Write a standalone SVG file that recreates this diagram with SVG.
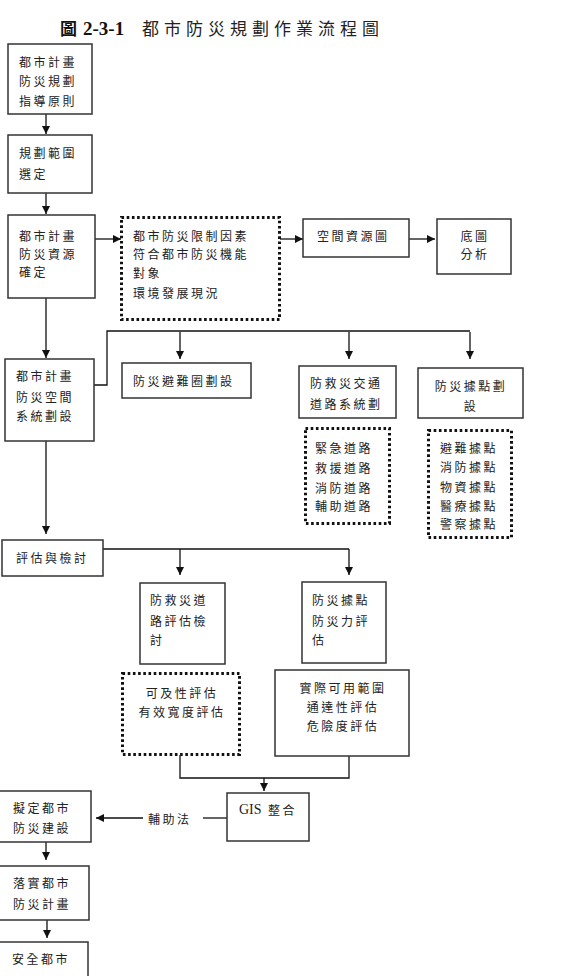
<svg xmlns="http://www.w3.org/2000/svg" width="582" height="976" viewBox="0 0 582 976">
<style>
.box{fill:#fff;stroke:#333;stroke-width:1.5}
.dot{fill:none;stroke:#111;stroke-width:3;stroke-dasharray:2.6 2.6}
.t{font-family:"Noto Sans CJK TC","Noto Sans CJK SC",sans-serif;font-size:12px;letter-spacing:2.5px;fill:#222;dominant-baseline:central}
.c{text-anchor:middle}
.ln{fill:none;stroke:#111;stroke-width:1.3}
.ar{marker-end:url(#ah)}
</style>
<defs>
<marker id="ah" viewBox="0 0 10 10" refX="10" refY="5" markerWidth="9" markerHeight="8" markerUnits="userSpaceOnUse" orient="auto"><path d="M0,0 L10,5 L0,10 z" fill="#111"/></marker>
</defs>
<rect width="582" height="976" fill="#fff"/>
<g id="title">
<text x="60" y="35" font-family="Noto Sans CJK TC,sans-serif" font-size="17" font-weight="bold" fill="#111">圖</text>
<text x="83" y="35" font-family="Liberation Serif,serif" font-size="19" font-weight="bold" fill="#111">2-3-1</text>
<text x="142" y="35" font-family="Noto Sans CJK TC,sans-serif" font-size="17" letter-spacing="5" fill="#222">都市防災規劃作業流程圖</text>
</g>
<g id="connectors">
<path class="ln ar" d="M46,114 V134"/>
<path class="ln ar" d="M46,193 V214"/>
<path class="ln ar" d="M95,239 H121"/>
<path class="ln ar" d="M280,239 H303"/>
<path class="ln ar" d="M409,239 H435"/>
<path class="ln ar" d="M46,298 V358"/>
<path class="ln" d="M94,385 H107 V331 H470"/>
<path class="ln ar" d="M180,332 V359"/>
<path class="ln ar" d="M349,332 V359"/>
<path class="ln ar" d="M470,332 V359"/>
<path class="ln ar" d="M46,441 V534"/>
<path class="ln" d="M103,549 H349"/>
<path class="ln ar" d="M180,549 V575"/>
<path class="ln ar" d="M349,549 V575"/>
<path class="ln" d="M180,755 V778 H349 V756"/>
<path class="ln ar" d="M264,778 V791"/>
<path class="ln" d="M227,818 H203"/>
<path class="ln ar" d="M143,818 H96"/>
<text class="t" x="148" y="818">輔助法</text>
<path class="ln ar" d="M46,842 V860"/>
<path class="ln ar" d="M47,920 V938"/>
</g>
<g id="n1"><rect class="box" x="8" y="44" width="84" height="70"/>
<text class="t" x="19" y="61">都市計畫</text><text class="t" x="19" y="80">防災規劃</text><text class="t" x="19" y="100">指導原則</text></g>
<g id="n2"><rect class="box" x="8" y="135" width="84" height="58"/>
<text class="t" x="19" y="152">規劃範圍</text><text class="t" x="19" y="173">選定</text></g>
<g id="n3"><rect class="box" x="8" y="215" width="87" height="83"/>
<text class="t" x="19" y="235">都市計畫</text><text class="t" x="19" y="253">防災資源</text><text class="t" x="19" y="271">確定</text></g>
<g id="n4"><rect class="dot" x="121.5" y="217.5" width="158" height="102"/>
<text class="t" x="133" y="235">都市防災限制因素</text><text class="t" x="133" y="253">符合都市防災機能</text><text class="t" x="133" y="272">對象</text><text class="t" x="133" y="292">環境發展現況</text></g>
<g id="n5"><rect class="box" x="303" y="219" width="106" height="38"/>
<text class="t" x="317" y="235">空間資源圖</text></g>
<g id="n6"><rect class="box" x="437" y="219" width="74" height="55"/>
<text class="t c" x="475" y="235">底圖</text><text class="t c" x="475" y="253">分析</text></g>
<g id="n7"><rect class="box" x="5" y="359" width="89" height="82"/>
<text class="t" x="16" y="375">都市計畫</text><text class="t" x="16" y="396">防災空間</text><text class="t" x="16" y="415">系統劃設</text></g>
<g id="n8"><rect class="box" x="122" y="363" width="129" height="35"/>
<text class="t" x="133" y="380">防災避難圈劃設</text></g>
<g id="n9"><rect class="box" x="299" y="366" width="97" height="52"/>
<text class="t" x="310" y="382">防救災交通</text><text class="t" x="310" y="403">道路系統劃</text></g>
<g id="n10"><rect class="box" x="418" y="368" width="105" height="50"/>
<text class="t c" x="471" y="385">防災據點劃</text><text class="t c" x="471" y="405">設</text></g>
<g id="n11"><rect class="dot" x="305.5" y="428.5" width="84" height="95"/>
<text class="t" x="315" y="447">緊急道路</text><text class="t" x="315" y="467">救援道路</text><text class="t" x="315" y="487">消防道路</text><text class="t" x="315" y="505">輔助道路</text></g>
<g id="n12"><rect class="dot" x="428.5" y="430.5" width="83" height="107"/>
<text class="t" x="440" y="447">避難據點</text><text class="t" x="440" y="466">消防據點</text><text class="t" x="440" y="486">物資據點</text><text class="t" x="440" y="505">醫療據點</text><text class="t" x="440" y="523">警察據點</text></g>
<g id="n13"><rect class="box" x="2" y="540" width="101" height="36"/>
<text class="t" x="16" y="557">評估與檢討</text></g>
<g id="n14"><rect class="box" x="140" y="583" width="85" height="81"/>
<text class="t" x="150" y="599">防救災道</text><text class="t" x="150" y="620">路評估檢</text><text class="t" x="150" y="639">討</text></g>
<g id="n15"><rect class="box" x="302" y="582" width="84" height="81"/>
<text class="t" x="312" y="599">防災據點</text><text class="t" x="312" y="620">防災力評</text><text class="t" x="312" y="639">估</text></g>
<g id="n16"><rect class="dot" x="122.5" y="673.5" width="117" height="81"/>
<text class="t c" x="182" y="692">可及性評估</text><text class="t c" x="182" y="711">有效寬度評估</text></g>
<g id="n17"><rect class="box" x="275" y="670" width="134" height="86"/>
<text class="t c" x="343" y="687">實際可用範圍</text><text class="t c" x="343" y="706">通達性評估</text><text class="t c" x="343" y="725">危險度評估</text></g>
<g id="n18"><rect class="box" x="227" y="793" width="82" height="48"/>
<text x="239" y="814" font-family="Liberation Serif,serif" font-size="14" fill="#222">GIS</text><text class="t" x="268" y="809">整合</text></g>
<g id="n19"><rect class="box" x="-1" y="791" width="92" height="51"/>
<text class="t" x="13" y="807">擬定都市</text><text class="t" x="13" y="827">防災建設</text></g>
<g id="n20"><rect class="box" x="-1" y="866" width="90" height="54"/>
<text class="t" x="13" y="882">落實都市</text><text class="t" x="13" y="903">防災計畫</text></g>
<g id="n21"><rect class="box" x="-1" y="942" width="89" height="40"/>
<text class="t" x="12" y="958">安全都市</text></g>
</svg>
